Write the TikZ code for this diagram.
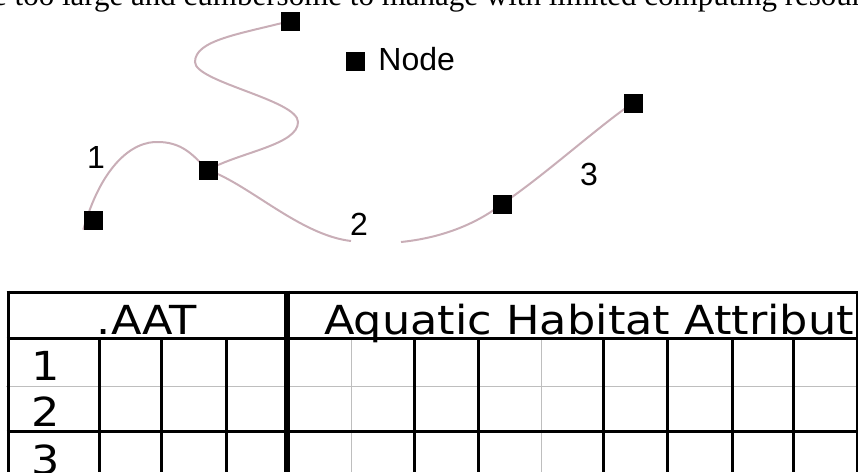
\documentclass[tikz,border=0pt]{standalone}
\usepackage{fontspec}
\usetikzlibrary{positioning}
\newfontfamily\lblfont{Liberation Sans}
\newfontfamily\tblfont[FakeStretch=1.115]{DejaVu Sans}
\newfontfamily\cutfont{Liberation Serif}
\definecolor{arcpink}{RGB}{201,174,183}
\definecolor{gridgray}{RGB}{190,190,190}
\pgfdeclarelayer{back}
\pgfsetlayers{back,main}

\begin{document}
\begin{tikzpicture}[x=1pt,y=-1pt,
  sq/.style={fill=black,inner sep=0pt,minimum size=19pt},
  arc/.style={arcpink,line width=2pt},
  lbl/.style={font=\lblfont\fontsize{32}{36}\selectfont,inner sep=0pt,anchor=base},
  cell/.style={font=\tblfont\fontsize{40}{44}\selectfont,inner sep=0pt,anchor=base west},
  rule/.style={line width=3pt},
  faint/.style={gridgray,line width=1pt}]
  \useasboundingbox (0,0) rectangle (858,472);
  \clip (0,0) rectangle (858,472);
  \node[font=\cutfont\fontsize{31}{34}\selectfont,inner sep=0pt,anchor=base west] (cut) at (-7,5)
        {e too large and cumbersome to manage with limited computing resources};
  % arcs and nodes
  \node[sq] (nTop) at (290,21) {};
  \node[sq] (nMid) at (208,170) {};
  \node[sq] (nLeft) at (93,220) {};
  \node[sq] (nLow) at (502,204) {};
  \node[sq] (nRight) at (633,103) {};
  \node[sq] (nKey) at (355,61) {};
  \node[lbl,anchor=base west] (keytxt) at ([xshift=13.5pt]nKey.south east) {Node};
  \coordinate (gapA) at (351,241);
  \coordinate (gapB) at (401,242);
  \begin{pgfonlayer}{back}
    \draw[arc] (nTop.center) .. controls (240,34) and (195,40) .. (195,62)
          .. controls (195,82) and (298,100) .. (298,122)
          .. controls (298,145) and (240,152) .. (nMid.center);
    \draw[arc] (nLeft.south west) .. controls (100,170) and (130,140) .. (160,142)
          .. controls (185,143) and (195,158) .. (nMid.center)
          .. controls (250,185) and (300,235) .. (gapA);
    \draw[arc] (gapB) .. controls (440,238) and (475,225) .. (nLow.center)
          .. controls (545,175) and (600,125) .. (nRight.center);
  \end{pgfonlayer}
  \node[lbl] (lab1) at (96,168) {1};
  \node[lbl] (lab2) at (359,235) {2};
  \node[lbl] (lab3) at (589,185) {3};
  % attribute table
  \draw[faint] (6,386) -- (858,386);
  \foreach \x in {351,541} \draw[faint] (\x,338) -- (\x,472);
  \foreach \y in {292,338,431} \draw[rule] (6.5,\y) -- (858,\y);
  \foreach \x in {8,857} \draw[rule] (\x,290.5) -- (\x,472);
  \foreach \x in {99,161,226,414,478,603,667,732,793} \draw[rule] (\x,338) -- (\x,472);
  \draw[line width=5.5pt] (287,290.5) -- (287,472);
  \node[cell,anchor=base] (aat) at (147,334) {.AAT};
  \node[cell] (aha) at (324,334) {Aquatic Habitat Attribut};
  \node[cell] (row1) at (31,380) {1};
  \node[cell] (row2) at (31,426) {2};
  \node[cell] (row3) at (31,474) {3};
\end{tikzpicture}
\end{document}
